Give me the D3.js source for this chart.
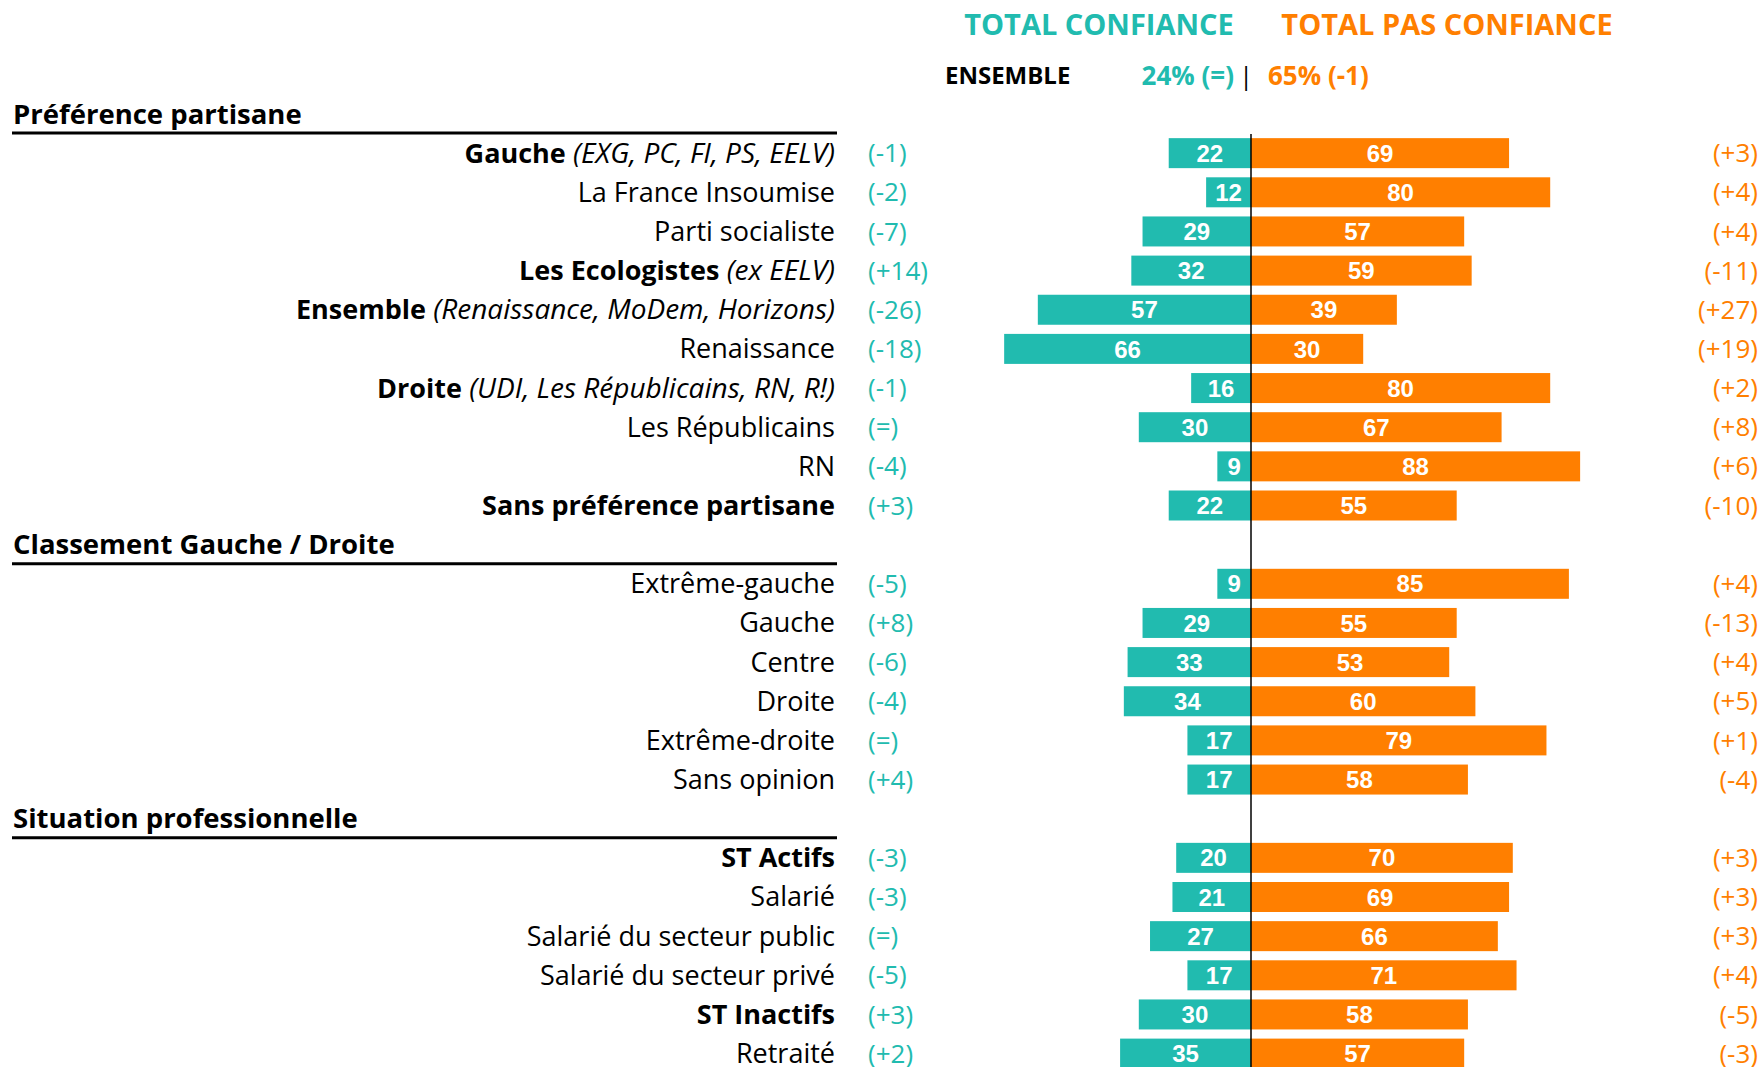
<!DOCTYPE html>
<html>
<head>
<meta charset="utf-8">
<script src="https://cdn.jsdelivr.net/npm/d3@7"></script>
<style>
  html, body { margin: 0; padding: 0; background: #fff; }
  svg { display: block; }
  text { font-family: 'Open Sans', 'DejaVu Sans', sans-serif; }
</style>
</head>
<body>
<svg id="chart" width="1762" height="1067"></svg>
<script>
// Sections and their row counts
const sections = ['Préférence partisane', 'Classement Gauche / Droite', 'Situation professionnelle'];
const sectionSizes = [10, 6, 6];

// Row labels: bold flag, main text, italic note
const rowLabels = [
  'Gauche', 'La France Insoumise', 'Parti socialiste', 'Les Ecologistes', 'Ensemble',
  'Renaissance', 'Droite', 'Les Républicains', 'RN', 'Sans préférence partisane',
  'Extrême-gauche', 'Gauche', 'Centre', 'Droite', 'Extrême-droite', 'Sans opinion',
  'ST Actifs', 'Salarié', 'Salarié du secteur public', 'Salarié du secteur privé', 'ST Inactifs', 'Retraité'
];
const rowNotes = [
  '(EXG, PC, FI, PS, EELV)', '', '', '(ex EELV)', '(Renaissance, MoDem, Horizons)',
  '', '(UDI, Les Républicains, RN, R!)', '', '', '',
  '', '', '', '', '', '',
  '', '', '', '', '', ''
];
const rowBold = [
  true, false, false, true, true, false, true, false, false, true,
  false, false, false, false, false, false,
  true, false, false, false, true, false
];

// Values
const confiance = [22, 12, 29, 32, 57, 66, 16, 30, 9, 22, 9, 29, 33, 34, 17, 17, 20, 21, 27, 17, 30, 35];
const pasConfiance = [69, 80, 57, 59, 39, 30, 80, 67, 88, 55, 85, 55, 53, 60, 79, 58, 70, 69, 66, 71, 58, 57];
const evoConfiance = ['(-1)', '(-2)', '(-7)', '(+14)', '(-26)', '(-18)', '(-1)', '(=)', '(-4)', '(+3)',
  '(-5)', '(+8)', '(-6)', '(-4)', '(=)', '(+4)',
  '(-3)', '(-3)', '(=)', '(-5)', '(+3)', '(+2)'];
const evoPasConfiance = ['(+3)', '(+4)', '(+4)', '(-11)', '(+27)', '(+19)', '(+2)', '(+8)', '(+6)', '(-10)',
  '(+4)', '(-13)', '(+4)', '(+5)', '(+1)', '(-4)',
  '(+3)', '(+3)', '(+3)', '(+4)', '(-5)', '(-3)'];

// Overall
const seriesNames = ['TOTAL CONFIANCE', 'TOTAL PAS CONFIANCE'];
const ensembleLabel = 'ENSEMBLE';
const ensembleValues = ['24% (=)', '65% (-1)'];

const TEAL = '#21bbaf';
const ORANGE = '#ff7f00';

const svg = d3.select('#chart');

// Build slot list: section headers interleaved with rows
const slots = [];
let r = 0;
sections.forEach((s, si) => {
  slots.push({ type: 'header', name: s });
  for (let k = 0; k < sectionSizes[si]; k++) {
    slots.push({ type: 'row', i: r });
    r++;
  }
});

const y = d3.scaleLinear().domain([0, slots.length - 1]).range([114, 1053.6]);
const axisX = 1251;
const x = d3.scaleLinear().domain([0, 100]).range([0, 374]);
const barH = 30;

const rows = slots.map((s, idx) => ({ ...s, slot: idx })).filter(s => s.type === 'row');
const headers = slots.map((s, idx) => ({ ...s, slot: idx })).filter(s => s.type === 'header');

// Series titles
svg.append('text')
  .attr('x', 1099).attr('y', 25).attr('dy', '0.35em')
  .attr('text-anchor', 'middle')
  .attr('font-size', 29).attr('font-weight', 700)
  .attr('fill', TEAL)
  .text(seriesNames[0]);
svg.append('text')
  .attr('x', 1447).attr('y', 25).attr('dy', '0.35em')
  .attr('text-anchor', 'middle')
  .attr('font-size', 29).attr('font-weight', 700)
  .attr('fill', ORANGE)
  .text(seriesNames[1]);

// Ensemble line
svg.append('text')
  .attr('x', 945).attr('y', 76).attr('dy', '0.35em')
  .attr('font-size', 24).attr('font-weight', 700)
  .attr('fill', '#000')
  .text(ensembleLabel);
svg.append('text')
  .attr('x', 1234).attr('y', 76).attr('dy', '0.35em')
  .attr('text-anchor', 'end')
  .attr('font-size', 26).attr('font-weight', 700)
  .attr('fill', TEAL)
  .text(ensembleValues[0]);
svg.append('text')
  .attr('x', 1246).attr('y', 76).attr('dy', '0.35em')
  .attr('text-anchor', 'middle')
  .attr('font-size', 25)
  .attr('fill', '#000')
  .text('|');
svg.append('text')
  .attr('x', 1268).attr('y', 76).attr('dy', '0.35em')
  .attr('font-size', 26).attr('font-weight', 700)
  .attr('fill', ORANGE)
  .text(ensembleValues[1]);

// Section headers with underline
const hdr = svg.append('g').selectAll('g')
  .data(headers)
  .enter().append('g');
hdr.append('text')
  .attr('x', 13).attr('y', d => y(d.slot)).attr('dy', '0.35em')
  .attr('font-size', 27.5).attr('font-weight', 700)
  .attr('fill', '#000')
  .text(d => d.name);
hdr.append('line')
  .attr('x1', 12).attr('x2', 837)
  .attr('y1', d => y(d.slot) + 19).attr('y2', d => y(d.slot) + 19)
  .attr('stroke', '#000').attr('stroke-width', 3);

// Row labels
const lbl = svg.append('g').selectAll('text')
  .data(rows)
  .enter().append('text')
  .attr('x', 835).attr('y', d => y(d.slot)).attr('dy', '0.35em')
  .attr('text-anchor', 'end')
  .attr('font-size', 27)
  .attr('fill', '#000');
lbl.append('tspan')
  .attr('font-weight', d => rowBold[d.i] ? 700 : 400)
  .text(d => rowLabels[d.i]);
lbl.filter(d => rowNotes[d.i] !== '')
  .append('tspan')
  .attr('font-style', 'italic')
  .attr('font-size', 28)
  .text(d => ' ' + rowNotes[d.i]);

// Evolution columns
svg.append('g').selectAll('text')
  .data(rows)
  .enter().append('text')
  .attr('x', 868).attr('y', d => y(d.slot)).attr('dy', '0.35em')
  .attr('font-size', 26)
  .attr('fill', TEAL)
  .text(d => evoConfiance[d.i]);
svg.append('g').selectAll('text')
  .data(rows)
  .enter().append('text')
  .attr('x', 1758).attr('y', d => y(d.slot)).attr('dy', '0.35em')
  .attr('text-anchor', 'end')
  .attr('font-size', 26)
  .attr('fill', ORANGE)
  .text(d => evoPasConfiance[d.i]);

// Bars
const bars = svg.append('g');
bars.selectAll('rect.conf')
  .data(rows)
  .enter().append('rect')
  .attr('class', 'conf')
  .attr('x', d => axisX - x(confiance[d.i]))
  .attr('y', d => y(d.slot) - barH / 2)
  .attr('width', d => x(confiance[d.i]))
  .attr('height', barH)
  .attr('fill', TEAL);
bars.selectAll('rect.pas')
  .data(rows)
  .enter().append('rect')
  .attr('class', 'pas')
  .attr('x', axisX)
  .attr('y', d => y(d.slot) - barH / 2)
  .attr('width', d => x(pasConfiance[d.i]))
  .attr('height', barH)
  .attr('fill', ORANGE);

// Bar value labels
const valueFont = "'Liberation Sans', Arial, sans-serif";
bars.selectAll('text.conf')
  .data(rows)
  .enter().append('text')
  .attr('class', 'conf')
  .attr('x', d => axisX - x(confiance[d.i]) / 2)
  .attr('y', d => y(d.slot)).attr('dy', '0.36em')
  .attr('text-anchor', 'middle')
  .style('font-family', valueFont)
  .attr('font-size', 24).attr('font-weight', 700)
  .attr('fill', '#fff')
  .text(d => confiance[d.i]);
bars.selectAll('text.pas')
  .data(rows)
  .enter().append('text')
  .attr('class', 'pas')
  .attr('x', d => axisX + x(pasConfiance[d.i]) / 2)
  .attr('y', d => y(d.slot)).attr('dy', '0.36em')
  .attr('text-anchor', 'middle')
  .style('font-family', valueFont)
  .attr('font-size', 24).attr('font-weight', 700)
  .attr('fill', '#fff')
  .text(d => pasConfiance[d.i]);

// Center axis
svg.append('line')
  .attr('x1', axisX).attr('x2', axisX)
  .attr('y1', 134).attr('y2', 1067)
  .attr('stroke', '#000').attr('stroke-width', 1.5);
</script>
</body>
</html>
